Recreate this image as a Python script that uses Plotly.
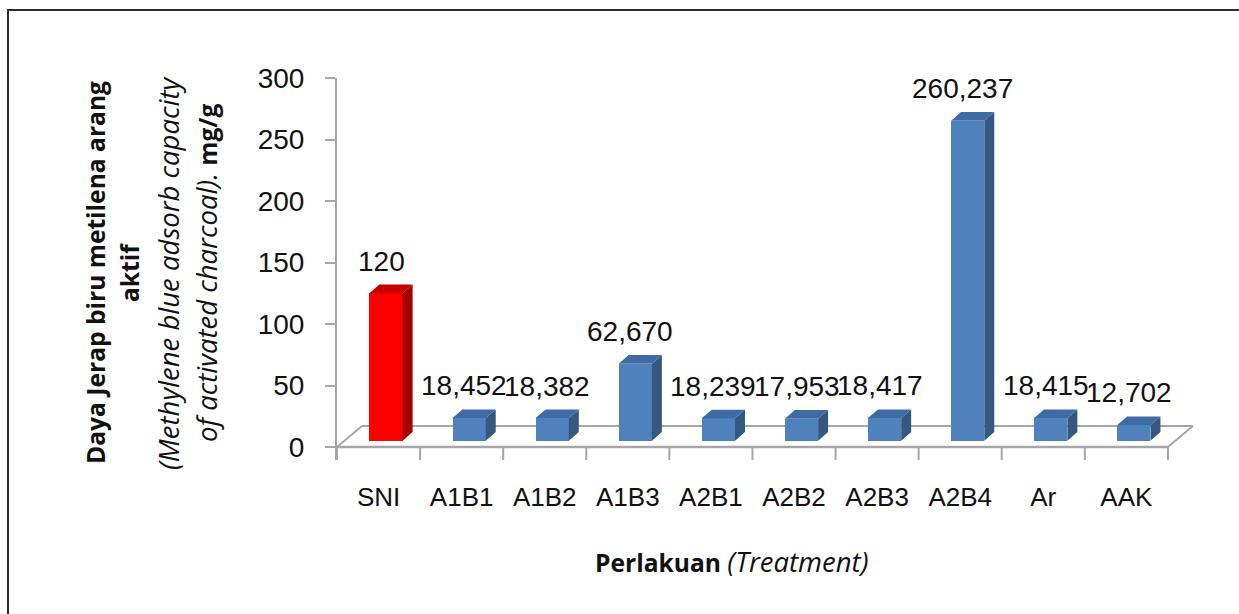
import plotly.graph_objects as go

# ---------------- data ----------------
categories = ["SNI", "A1B1", "A1B2", "A1B3", "A2B1", "A2B2", "A2B3", "A2B4", "Ar", "AAK"]
values = [120, 18.452, 18.382, 62.670, 18.239, 17.953, 18.417, 260.237, 18.415, 12.702]
value_labels = ["120", "18,452", "18,382", "62,670", "18,239", "17,953", "18,417", "260,237", "18,415", "12,702"]
y_ticks = [0, 50, 100, 150, 200, 250, 300]

# ---------------- layout geometry / style ----------------
W, H = 1239, 614
L, R, T, B = 337, 42, 78, 154
PW, PH = W - L - R, H - T - B
X_RANGE = [-0.5, 9.85]
Y_RANGE = [-10.57, 300]

BASE = 5.1      # bar base set back in depth (value units)
OFF = 0.09      # front-face offset from category centre
BW = 0.40       # front-face width
DX, DY = 0.12, 7.0        # bar depth projection
FDX, FDY = 0.30, 17.0     # floor depth projection

FRONT = {"red": "#FF0000", "blue": "#4F81BD"}
SIDE = {"red": "#A50000", "blue": "#34587F"}
TOP = {"red": "#C80000", "blue": "#3E6BA3"}
AXIS_GRAY = "#A6A6A6"
NUM_FONT = "Liberation Sans, Arial, sans-serif"
TXT_FONT = "Open Sans, sans-serif"
ITAL = '<span style="font-size:27.5px"><i>{}</i></span>'


def px_x(px):
    return (px - L) / PW


def px_y(py):
    return (H - B - py) / PH


col_keys = ["red" if c == "SNI" else "blue" for c in categories]
n = len(categories)

fig = go.Figure()

# front faces
fig.add_trace(go.Bar(x=[i + OFF for i in range(n)], y=values, base=BASE, width=BW,
                     marker=dict(color=[FRONT[k] for k in col_keys], line=dict(width=0)),
                     hoverinfo="skip", showlegend=False))

# side and top faces
for key in ["red", "blue"]:
    sx, sy, qx, qy = [], [], [], []
    for i, v in enumerate(values):
        if col_keys[i] != key:
            continue
        x0 = i + OFF - BW / 2
        x1 = i + OFF + BW / 2
        y0 = BASE
        y1 = BASE + v
        sx += [x1, x1 + DX, x1 + DX, x1, x1, None]
        sy += [y0, y0 + DY, y1 + DY, y1, y0, None]
        qx += [x0, x1, x1 + DX, x0 + DX, x0, None]
        qy += [y1, y1, y1 + DY, y1 + DY, y1, None]
    fig.add_trace(go.Scatter(x=sx, y=sy, mode="lines", fill="toself", fillcolor=SIDE[key],
                             line=dict(width=0, color=SIDE[key]), hoverinfo="skip", showlegend=False))
    fig.add_trace(go.Scatter(x=qx, y=qy, mode="lines", fill="toself", fillcolor=TOP[key],
                             line=dict(width=0, color=TOP[key]), hoverinfo="skip", showlegend=False))

shapes = []
# floor (drawn beneath the bars)
floor_pts = [(-0.5, 0), (n - 0.5, 0), (n - 0.5 + FDX, FDY), (-0.5 + FDX, FDY)]
for k in range(4):
    (ax, ay), (bx, by) = floor_pts[k], floor_pts[(k + 1) % 4]
    shapes.append(dict(type="line", xref="x", yref="y", x0=ax, y0=ay, x1=bx, y1=by,
                       layer="below", line=dict(color=AXIS_GRAY, width=2.5 if k == 0 else 2)))
# category boundary ticks
for k in range(n + 1):
    shapes.append(dict(type="line", xref="x", yref="y", x0=k - 0.5, y0=0, x1=k - 0.5, y1=Y_RANGE[0],
                       layer="below", line=dict(color=AXIS_GRAY, width=2)))
# outer frame
shapes.append(dict(type="rect", xref="paper", yref="paper",
                   x0=px_x(8), y0=px_y(10), x1=px_x(W + 20), y1=px_y(H + 20),
                   line=dict(color="#2b2b2b", width=2), fillcolor="rgba(0,0,0,0)"))

annotations = []
# data labels
for i, (v, lab) in enumerate(zip(values, value_labels)):
    annotations.append(dict(x=i + 0.03, y=BASE + v + DY, xref="x", yref="y", text=lab,
                            showarrow=False, yanchor="bottom", xanchor="center", yshift=6,
                            font=dict(family=NUM_FONT, size=28, color="#111111")))

# y-axis title lines
ytitle_lines = [
    ("<b>Daya Jerap biru metilena arang</b>", 95),
    ("<b>aktif</b>", 129),
    (ITAL.format("(Methylene blue adsorb capacity"), 168),
    (ITAL.format("of activated charcoal). ") + "<b>mg/g</b>", 206),
]
for txt, xp in ytitle_lines:
    annotations.append(dict(x=px_x(xp), y=px_y(273), xref="paper", yref="paper", text=txt,
                            textangle=-90, showarrow=False, xanchor="center", yanchor="middle",
                            font=dict(family=TXT_FONT, size=24.6, color="#111111")))

# x-axis title
annotations.append(dict(x=px_x(731), y=px_y(561), xref="paper", yref="paper",
                        text="<b>Perlakuan</b> " + ITAL.format("(Treatment)"), showarrow=False,
                        xanchor="center", yanchor="middle",
                        font=dict(family=TXT_FONT, size=24.6, color="#111111")))

fig.update_layout(
    width=W, height=H,
    margin=dict(l=L, r=R, t=T, b=B, autoexpand=False),
    paper_bgcolor="white", plot_bgcolor="white",
    bargap=0, showlegend=False,
    annotations=annotations, shapes=shapes,
    xaxis=dict(range=X_RANGE, tickvals=list(range(n)), ticktext=categories, ticks="",
               showline=False, showgrid=False, zeroline=False, ticklabelstandoff=19,
               tickfont=dict(family=NUM_FONT, size=26, color="#111111"), fixedrange=True),
    yaxis=dict(range=Y_RANGE, tickvals=y_ticks, ticks="outside", ticklen=10, tickwidth=2,
               tickcolor=AXIS_GRAY, showline=True, linecolor=AXIS_GRAY, linewidth=2,
               showgrid=False, zeroline=False, ticklabelstandoff=15,
               tickfont=dict(family=NUM_FONT, size=28, color="#111111"), fixedrange=True),
)

fig.write_html("out.html", config={"displayModeBar": False},
               post_script="document.body.style.margin='0';document.body.style.overflow='hidden';")
